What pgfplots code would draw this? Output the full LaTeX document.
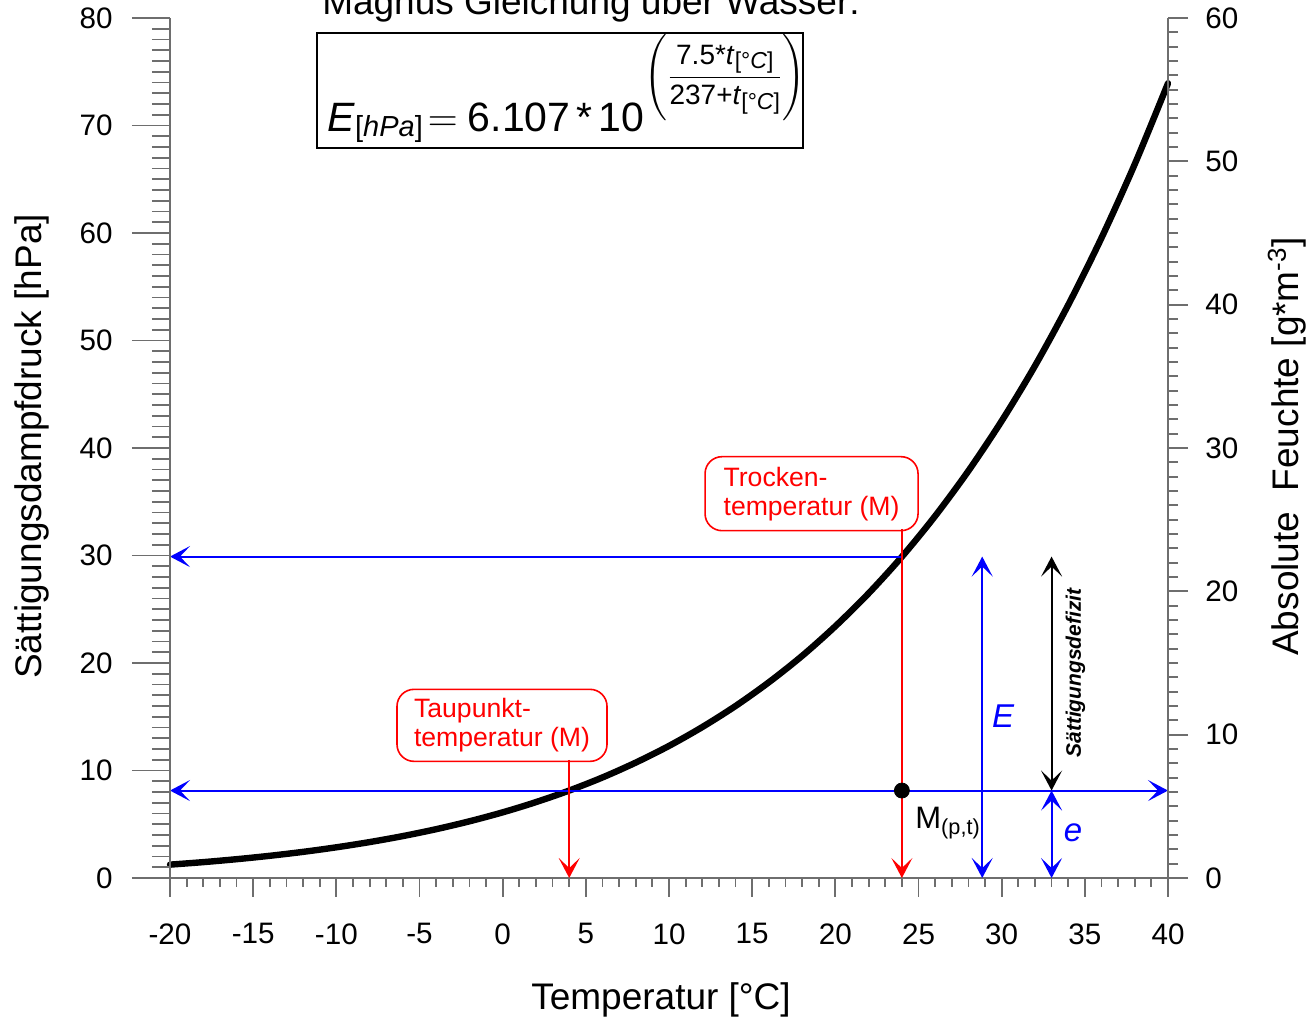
\documentclass[border=0pt]{standalone}
\usepackage{amsmath}
\usepackage{pgfplots}
\pgfplotsset{compat=1.18}
\usepackage{pgfplotstable}
\usepackage{fontspec}
\setmainfont{Liberation Sans}
\usetikzlibrary{arrows.meta}
\definecolor{axc}{RGB}{110,110,110}
\newcommand{\tickfont}{\fontsize{14.8}{17}\selectfont}
\newcommand{\labfont}{\fontsize{18.5}{21}\selectfont}

\pgfplotstableread{
t E
-20 1.243
-18 1.476
-16 1.749
-14 2.065
-12 2.431
-10 2.854
-8 3.341
-6 3.899
-4 4.540
-2 5.273
0 6.107
2 7.057
4 8.134
6 9.353
8 10.736
10 12.287
12 14.040
14 16.000
16 18.202
18 20.658
20 23.419
22 26.478
24 29.884
26 33.673
28 37.872
30 42.516
32 47.638
34 53.307
36 59.543
38 66.401
40 73.931
}\magnus

\tikzset{
  sarr/.style={-{Stealth[length=10pt,width=10.5pt,inset=5pt]}},
  darr/.style={{Stealth[length=10pt,width=10.5pt,inset=5pt]}-{Stealth[length=10pt,width=10.5pt,inset=5pt]}},
}
\pgfplotsset{
  base/.style={scale only axis, width=499pt, height=430pt,
    at={(0pt,0pt)}, anchor=south west,
    xmin=-20, xmax=40, clip=false, tick align=outside,
    axis line style={axc, line width=0.9pt},
    tick style={axc, line width=0.9pt},
    minor tick style={axc, line width=0.9pt},
    ticklabel style={font=\tickfont, inner sep=0pt}},
}
\newcommand{\degc}{\raisebox{-0.3ex}{\fontsize{11.5}{13}\selectfont[°\textit{C}]}}

\begin{document}
\begin{tikzpicture}
% ---- main axis: x axis and data
\begin{axis}[base, ymin=0, ymax=80,
  axis x line*=bottom, hide y axis,
  xtick={-20,-15,...,40}, minor x tick num=4,
  major tick length=9.5pt, minor tick length=4.5pt,
  xticklabels={-20,-15,-10,-5,0,5,10,15,20,25,30,35,40},
  xticklabel style={anchor=north}, xticklabel shift=13pt,
  xlabel={Temperatur [°C]},
  xlabel style={at={(axis description cs:0.492,-0.1419)}, anchor=center, font=\labfont},
]
\addplot[black, line width=3.2pt, line cap=round, line join=round, smooth] table[x=t, y=E] {\magnus};

% annotations
\addplot[blue, line width=1pt, sarr] coordinates {(24,29.9) (-20,29.9)};
\addplot[red, line width=1pt, sarr] coordinates {(24,32.47) (24,0)};
\addplot[blue, line width=1pt, darr] coordinates {(-20,8.134) (40,8.134)};
\addplot[red, line width=1pt, sarr] coordinates {(4,10.98) (4,0)};
\addplot[blue, line width=1pt, darr] coordinates {(28.83,0) (28.83,29.9)};
\addplot[black, line width=1pt, darr] coordinates {(33,8.134) (33,29.9)};
\addplot[blue, line width=1pt, darr] coordinates {(33,0) (33,8.134)};
\addplot[only marks, mark=*, mark size=3.75pt, black] coordinates {(24,8.134)};

\node[draw=red, line width=0.8pt, rounded corners=8.5pt, text=red, align=left,
  minimum width=106.5pt, minimum height=37pt, inner sep=0pt,
  font=\fontsize{13.3}{14.5}\selectfont] at (axis cs:18.57,35.75) {Trocken-\\temperatur (M)};
\node[draw=red, line width=0.8pt, rounded corners=8.5pt, text=red, align=left,
  minimum width=105pt, minimum height=36pt, inner sep=0pt,
  font=\fontsize{13.3}{14.5}\selectfont] at (axis cs:-0.04,14.2) {Taupunkt-\\temperatur (M)};

\node[text=blue, font=\fontsize{16.5}{18}\selectfont\itshape] at (axis cs:30.08,15.1) {E};
\node[text=blue, font=\fontsize{16.5}{18}\selectfont\itshape] at (axis cs:34.29,4.2) {e};
\node[rotate=90, font=\fontsize{10.5}{12}\selectfont\bfseries\itshape] at (axis cs:34.44,19.07) {Sättigungsdefizit};
\node[anchor=base west, inner sep=0pt, font=\fontsize{15.5}{17}\selectfont] at (axis cs:24.79,4.6) {M\textsubscript{(p,t)}};

% title and formula
\node[anchor=base, inner sep=0pt, font=\labfont] at (axis cs:5.31,80.28) {Magnus Gleichung über Wasser:};
\node[draw=black, line width=0.9pt, minimum width=243pt, minimum height=57.5pt, inner sep=0pt] at (axis cs:3.45,73.26) {};
\node[anchor=base west, inner sep=0pt] at (axis cs:-10.56,69.40) {\fontsize{20.5}{23}\selectfont\textit{E}\raisebox{-0.12em}{\fontsize{14.5}{16}\selectfont[\textit{hPa}]}\hspace{0.12em}$=$\hspace{0.25em}6.107\hspace{0.15em}*\hspace{0.15em}10\raisebox{23.5pt}{\fontsize{14}{16}\selectfont$\left(\rule[-17pt]{0pt}{23.5pt}\dfrac{\mbox{7.5*\textit{t}\degc}}{\mbox{237+\textit{t}\degc}}\right)$}};
\end{axis}

% ---- left y axis
\begin{axis}[base, ymin=0, ymax=80,
  axis y line*=left, hide x axis,
  ytick={0,10,...,80}, yticklabels={0,10,20,30,40,50,60,70,80},
  minor y tick num=9,
  major tick length=19pt, minor tick length=9pt,
  yticklabel style={anchor=east}, yticklabel shift=9.5pt,
  ylabel={Sättigungsdampfdruck [hPa]},
  ylabel style={at={(axis description cs:-0.1383,0.502)}, anchor=center, font=\labfont},
]
\end{axis}

% ---- right y axis
\begin{axis}[base, ymin=0, ymax=60,
  axis y line*=right, hide x axis,
  ytick={0,10,...,60}, yticklabels={0,10,20,30,40,50,60},
  minor y tick num=9,
  major tick length=10pt, minor tick length=5pt,
  yticklabel style={anchor=west}, yticklabel shift=8.5pt,
  ylabel={Absolute~~Feuchte [g*m\textsuperscript{-3}]},
  ylabel style={at={(axis description cs:1.1192,0.502)}, anchor=center, font=\labfont},
]
\end{axis}

\pgfresetboundingbox
\path[use as bounding box] (-85pt,-71pt) rectangle (569.5pt,439pt);
\end{tikzpicture}
\end{document}
